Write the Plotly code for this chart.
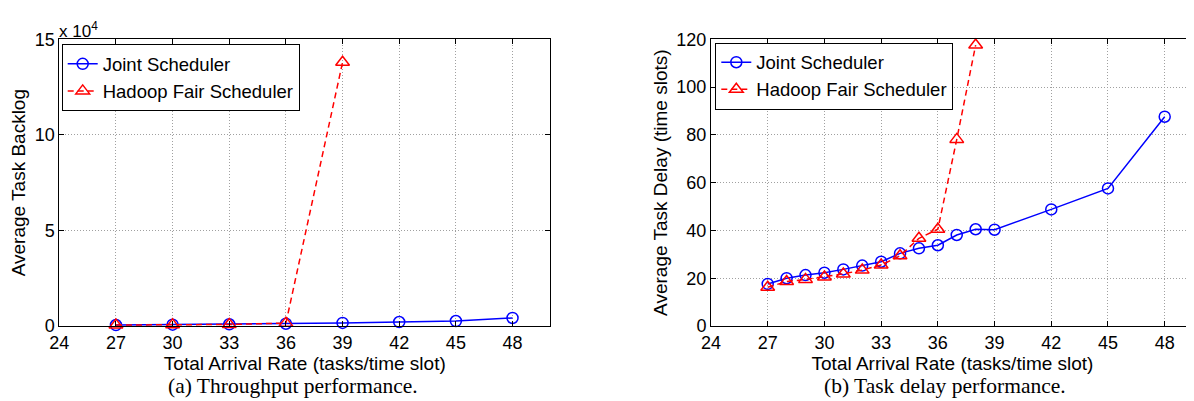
import plotly.graph_objects as go

# ---------------- data ----------------
x_ticks = [24, 27, 30, 33, 36, 39, 42, 45, 48]

# (a) Average task backlog
rate_backlog_joint = [27, 30, 33, 36, 39, 42, 45, 48]
backlog_joint = [500, 700, 900, 1200, 1600, 2100, 2600, 4200]
rate_backlog_hadoop = [27, 30, 33, 36, 39]
backlog_hadoop = [500, 600, 800, 1500, 138000]
backlog_tickvals = [0, 50000, 100000, 150000]
backlog_ticktext = ["0", "5", "10", "15"]

# (b) Average task delay
rate_delay_joint = [27, 28, 29, 30, 31, 32, 33, 34, 35, 36, 37, 38, 39, 42, 45, 48]
delay_joint = [17.6, 20.0, 21.3, 22.3, 23.7, 25.3, 26.9, 30.4, 32.5, 33.8, 38.1, 40.5, 40.3, 48.8, 57.6, 87.6]
rate_delay_hadoop = [27, 28, 29, 30, 31, 32, 33, 34, 35, 36, 37, 38]
delay_hadoop = [16.2, 18.6, 19.5, 20.5, 21.8, 23.4, 25.5, 29.4, 36.7, 40.5, 78.1, 117.6]
delay_tickvals = [0, 20, 40, 60, 80, 100, 120]

names = ["Joint Scheduler", "Hadoop Fair Scheduler"]
captions = ["(a) Throughput performance.", "(b) Task delay performance."]

# ---------------- style ----------------
OFF = 8  # default page body margin in the written html
W, H = 1194 - OFF, 401 - OFF
SANS = "Liberation Sans, Arial, Helvetica, sans-serif"
SERIF = "Liberation Serif, Times New Roman, serif"
BLUE = "#0000ff"
RED = "#ff0000"

fig = go.Figure()

def add_pair(xj, yj, xh, yh, xa, ya, leg):
    fig.add_trace(go.Scatter(
        x=xj, y=yj, name=names[0], mode="lines+markers",
        line=dict(color=BLUE, width=1.5),
        marker=dict(symbol="circle-open", size=11, color=BLUE, line=dict(width=1.5)),
        xaxis=xa, yaxis=ya, legend=leg, cliponaxis=False))
    fig.add_trace(go.Scatter(
        x=xh, y=yh, name=names[1], mode="lines+markers",
        line=dict(color=RED, width=1.5, dash="6px,4px"),
        marker=dict(symbol="triangle-up-open", size=12, color=RED, line=dict(width=1.5)),
        xaxis=xa, yaxis=ya, legend=leg, cliponaxis=False))

add_pair(rate_backlog_joint, backlog_joint, rate_backlog_hadoop, backlog_hadoop, "x", "y", "legend")
add_pair(rate_delay_joint, delay_joint, rate_delay_hadoop, delay_hadoop, "x2", "y2", "legend2")

def px_x(p):
    return (p - OFF) / W

def px_y(p):
    return (H - (p - OFF)) / H

GRID = dict(showgrid=True, gridcolor="#a0a0a0", griddash="1px,2px", gridwidth=1)

common_x = dict(
    tickvals=x_ticks, ticks="inside", ticklen=5, tickcolor="black",
    showline=True, linecolor="black", linewidth=1,
    zeroline=False, automargin=False,
    tickfont=dict(family=SANS, size=18, color="black"),
    title=dict(text="Total Arrival Rate (tasks/time slot)",
               font=dict(family=SANS, size=19, color="black"), standoff=0),
    **GRID,
)
common_y = dict(
    ticks="inside", ticklen=5, tickcolor="black",
    showline=True, linecolor="black", linewidth=1,
    zeroline=False, automargin=False,
    tickfont=dict(family=SANS, size=18, color="black"),
    **GRID,
)

y_dom = [px_y(326), px_y(39.3)]

LEGEND_STYLE = dict(
    xanchor="left", yanchor="top",
    bgcolor="white", bordercolor="black", borderwidth=1,
    font=dict(family=SANS, size=18.5, color="black"),
    itemwidth=30, tracegroupgap=0,
)

fig.update_layout(
    width=W, height=H,
    margin=dict(l=0, r=0, t=0, b=0, autoexpand=False),
    paper_bgcolor="white", plot_bgcolor="white",
    showlegend=True,
    xaxis=dict(common_x, domain=[px_x(59.3), px_x(550.3)], range=[24, 50],
               anchor="y", mirror="ticks"),
    yaxis=dict(common_y, domain=y_dom, range=[0, 150000], anchor="x",
               tickvals=backlog_tickvals, ticktext=backlog_ticktext, mirror="ticks",
               title=dict(text="Average Task Backlog",
                          font=dict(family=SANS, size=19, color="black"), standoff=5)),
    xaxis2=dict(common_x, domain=[px_x(711), 1.0], range=[24, 49.55],
                anchor="y2", mirror="ticks"),
    yaxis2=dict(common_y, domain=y_dom, range=[0, 120], anchor="x2",
                tickvals=delay_tickvals, mirror=False,
                title=dict(text="Average Task Delay (time slots)",
                           font=dict(family=SANS, size=19, color="black"), standoff=3)),
    legend=dict(LEGEND_STYLE, x=px_x(61.7), y=px_y(44.3)),
    legend2=dict(LEGEND_STYLE, x=px_x(715.3), y=px_y(42.7)),
    annotations=[
        dict(text="x 10<sup>4</sup>", xref="paper", yref="paper",
             x=px_x(57), y=px_y(43), xanchor="left", yanchor="bottom",
             showarrow=False, font=dict(family=SANS, size=17, color="black")),
        dict(text=captions[0], xref="paper", yref="paper",
             x=px_x(292.5), y=px_y(386), xanchor="center", yanchor="middle",
             showarrow=False, font=dict(family=SERIF, size=21.5, color="black")),
        dict(text=captions[1], xref="paper", yref="paper",
             x=px_x(945), y=px_y(386), xanchor="center", yanchor="middle",
             showarrow=False, font=dict(family=SERIF, size=21.5, color="black")),
    ],
)

fig.write_html("out.html")
